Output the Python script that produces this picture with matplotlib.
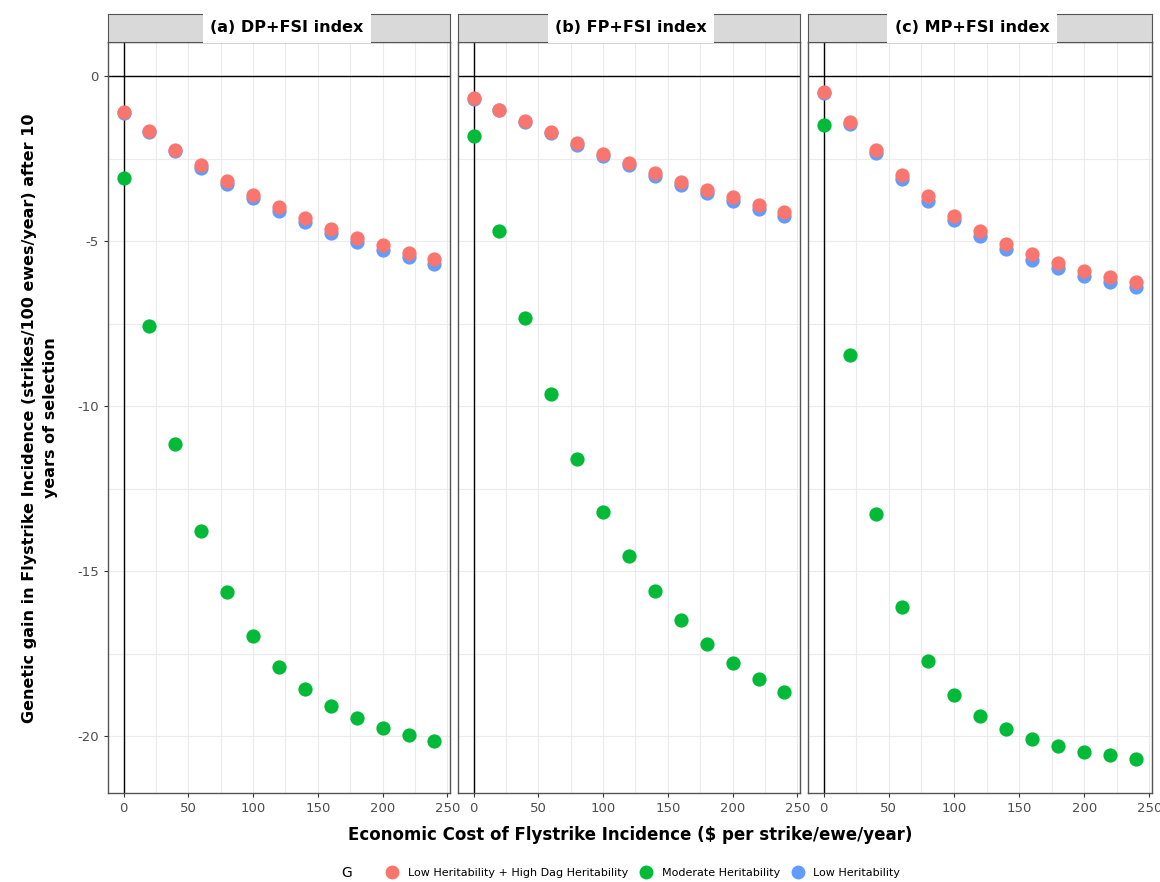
import matplotlib.pyplot as plt
from matplotlib.lines import Line2D

plt.rcParams['axes.unicode_minus'] = False

cost = [0, 20, 40, 60, 80, 100, 120, 140, 160, 180, 200, 220, 240]
panels = ["(a) DP+FSI index", "(b) FP+FSI index", "(c) MP+FSI index"]
groups = ["Low Heritability + High Dag Heritability", "Moderate Heritability", "Low Heritability"]
colors = ["#F8766D", "#00BA38", "#619CFF"]

# Low Heritability + High Dag Heritability
dag_a = [-1.08, -1.66, -2.22, -2.70, -3.18, -3.60, -3.97, -4.30, -4.63, -4.90, -5.12, -5.34, -5.54]
dag_b = [-0.66, -1.01, -1.36, -1.69, -2.03, -2.35, -2.63, -2.94, -3.20, -3.46, -3.67, -3.91, -4.12]
dag_c = [-0.49, -1.39, -2.24, -3.00, -3.64, -4.22, -4.68, -5.07, -5.40, -5.66, -5.89, -6.07, -6.23]
# Moderate Heritability
mod_a = [-3.07, -7.56, -11.14, -13.77, -15.64, -16.95, -17.89, -18.58, -19.07, -19.44, -19.75, -19.97, -20.15]
mod_b = [-1.82, -4.69, -7.31, -9.63, -11.59, -13.20, -14.54, -15.61, -16.48, -17.19, -17.78, -18.27, -18.67]
mod_c = [-1.49, -8.46, -13.25, -16.09, -17.73, -18.75, -19.38, -19.79, -20.09, -20.31, -20.47, -20.57, -20.68]
# Low Heritability
low_a = [-1.10, -1.70, -2.27, -2.77, -3.26, -3.70, -4.08, -4.43, -4.76, -5.03, -5.26, -5.48, -5.68]
low_b = [-0.68, -1.03, -1.39, -1.73, -2.07, -2.40, -2.70, -3.01, -3.28, -3.55, -3.77, -4.02, -4.24]
low_c = [-0.52, -1.45, -2.33, -3.10, -3.77, -4.36, -4.83, -5.22, -5.56, -5.82, -6.05, -6.24, -6.40]

dag = [dag_a, dag_b, dag_c]
mod = [mod_a, mod_b, mod_c]
low = [low_a, low_b, low_c]

W, H = 1160, 882
fig = plt.figure(figsize=(W / 100, H / 100), dpi=100)

lefts = [108, 458, 808]
rights = [450, 800, 1152]
top, bottom = 42, 793
strip_top = 14
title_x = [287, 631, 972]

for i in range(3):
    l, r = lefts[i], rights[i]
    ax = fig.add_axes([l / W, (H - bottom) / H, (r - l) / W, (bottom - top) / H])
    ax.set_xlim(-12, 252)
    ax.set_ylim(-21.72, 1.04)
    ax.set_xticks([0, 50, 100, 150, 200, 250])
    ax.set_xticks([25, 75, 125, 175, 225], minor=True)
    ax.set_yticks([-20, -15, -10, -5, 0])
    ax.set_yticks([-17.5, -12.5, -7.5, -2.5], minor=True)
    ax.grid(True, which="both", color="#EBEBEB", lw=0.8)
    ax.set_axisbelow(True)
    ax.axhline(0, color="black", lw=1.0, zorder=1)
    ax.axvline(0, color="black", lw=1.0, zorder=1)
    for s in ax.spines.values():
        s.set_color("#555555")
        s.set_linewidth(1.0)
    ax.tick_params(which="major", length=3, color="#333333", labelsize=9.5, labelcolor="#4D4D4D")
    ax.tick_params(which="minor", length=0)
    if i > 0:
        ax.tick_params(axis="y", labelleft=False, length=0)

    ax.scatter(cost, low[i], s=105, color=colors[2], lw=0, zorder=3)
    ax.scatter(cost, mod[i], s=105, color=colors[1], lw=0, zorder=3)
    ax.scatter(cost, dag[i], s=105, color=colors[0], lw=0, zorder=4)

    sax = fig.add_axes([l / W, (H - top) / H, (r - l) / W, (top - strip_top) / H])
    sax.set_facecolor("#D9D9D9")
    sax.set_xticks([])
    sax.set_yticks([])
    for s in sax.spines.values():
        s.set_color("#555555")
    fig.text(title_x[i] / W, (H - 28) / H, panels[i], ha="center", va="center",
             fontsize=11.5, fontweight="bold",
             bbox=dict(facecolor="white", edgecolor="none", boxstyle="square,pad=0.45"))

fig.text(630 / W, (H - 835) / H, "Economic Cost of Flystrike Incidence ($ per strike/ewe/year)",
         ha="center", va="center", fontsize=12, fontweight="bold")
fig.text(40 / W, (H - 418) / H,
         "Genetic gain in Flystrike Incidence (strikes/100 ewes/year) after 10\nyears of selection",
         ha="center", va="center", rotation=90, fontsize=11.5, fontweight="bold", linespacing=1.5)

handles = [Line2D([], [], ls="", marker="o", ms=10, color=c, mec="none") for c in colors]
fig.legend(handles, groups, loc="center", bbox_to_anchor=(643 / W, (H - 873) / H),
           ncol=3, frameon=False, fontsize=8, borderpad=0, borderaxespad=0,
           handletextpad=0.8, columnspacing=1.0, handlelength=1.2)
fig.text(347 / W, (H - 873) / H, "G", ha="center", va="center", fontsize=10)

fig.savefig("out.png", dpi=100)
